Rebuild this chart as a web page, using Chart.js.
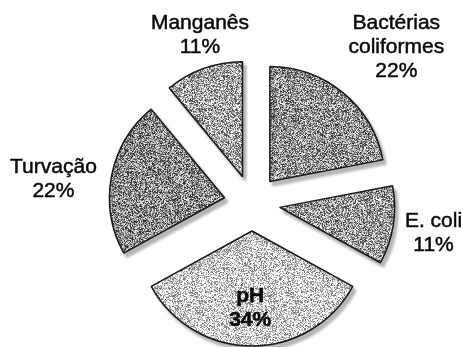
<!DOCTYPE html>
<html>
<head>
<meta charset="utf-8">
<script src="https://cdn.jsdelivr.net/npm/chart.js@4/dist/chart.umd.min.js"></script>
<style>
  html, body { margin: 0; padding: 0; background: #fff; }
  #wrap { width: 462px; height: 347px; position: relative; }
</style>
</head>
<body>
<div id="wrap"><canvas id="pieChart"></canvas></div>
<script>
// Parâmetros de qualidade da água fora do padrão
const categories = ['Bactérias coliformes', 'E. coli', 'pH', 'Turvação', 'Manganês'];
const labelLines = [['Bactérias', 'coliformes'], ['E. coli'], ['pH'], ['Turvação'], ['Manganês']];
const shares = [22, 11, 34, 22, 11];

// gray level of each slice texture
const sliceGray = [146, 156, 214, 138, 168];
// label placement: distance from the pie centre and a small turn (degrees) off the slice middle
const labelPlace = [
    { dist: 212, turn: 3.3 },
    { dist: 184, turn: 0.4 },
    { dist: 105, turn: 1 },
    { dist: 200, turn: -3.9 },
    { dist: 176, turn: 2.6 }
];
const EXPLODE = 28;

// grainy halftone fill, deterministic
function grainPattern(base) {
    const size = 96;
    const c = document.createElement('canvas');
    c.width = size; c.height = size;
    const g = c.getContext('2d');
    const img = g.createImageData(size, size);
    for (let y = 0; y < size; y++) {
        for (let x = 0; x < size; x++) {
            let h = Math.sin(x * 12.9898 + y * 78.233) * 43758.5453;
            h = h - Math.floor(h);
            const v = Math.max(0, Math.min(255, Math.round(base + (h - 0.5) * 210)));
            const i = (y * size + x) * 4;
            img.data[i] = img.data[i + 1] = img.data[i + 2] = v;
            img.data[i + 3] = 255;
        }
    }
    g.putImageData(img, 0, 0);
    return g.createPattern(c, 'repeat');
}

// push every slice outward along its middle angle
const explodePlugin = {
    id: 'explode',
    afterDatasetUpdate(chart, args) {
        args.meta.data.forEach(arc => {
            const mid = (arc.startAngle + arc.endAngle) / 2;
            arc.x += Math.cos(mid) * EXPLODE;
            arc.y += Math.sin(mid) * EXPLODE;
        });
    },
    beforeDatasetDraw(chart) {
        const ctx = chart.ctx;
        ctx.shadowColor = 'rgba(0,0,0,0.28)';
        ctx.shadowBlur = 3;
        ctx.shadowOffsetX = 3;
        ctx.shadowOffsetY = 4;
    },
    afterDatasetDraw(chart) {
        const ctx = chart.ctx;
        ctx.shadowColor = 'transparent';
        ctx.shadowBlur = 0;
        ctx.shadowOffsetX = 0;
        ctx.shadowOffsetY = 0;
    }
};

const sliceLabels = {
    id: 'sliceLabels',
    afterDatasetsDraw(chart) {
        const ctx = chart.ctx;
        const area = chart.chartArea;
        const cx = (area.left + area.right) / 2;
        const cy = (area.top + area.bottom) / 2;
        const meta = chart.getDatasetMeta(0);
        const total = shares.reduce((a, b) => a + b, 0);
        const lineH = 24;
        ctx.save();
        ctx.fillStyle = '#0a0a0a';
        ctx.strokeStyle = '#0a0a0a';
        ctx.lineWidth = 0.5;
        ctx.textAlign = 'center';
        ctx.textBaseline = 'middle';
        meta.data.forEach((arc, i) => {
            const mid = (arc.startAngle + arc.endAngle) / 2 + labelPlace[i].turn * Math.PI / 180;
            const x = cx + Math.cos(mid) * labelPlace[i].dist;
            const y = cy + Math.sin(mid) * labelPlace[i].dist;
            const lines = labelLines[i].concat([Math.round(shares[i] / total * 100) + '%']);
            ctx.font = (i === 2 ? 'bold ' : '') + '21px "Liberation Sans", Arial, sans-serif';
            const top = y - (lines.length - 1) * lineH / 2;
            lines.forEach((t, k) => {
                ctx.fillText(t, x, top + k * lineH);
                ctx.strokeText(t, x, top + k * lineH);
            });
        });
        ctx.restore();
    }
};

const ctx = document.getElementById('pieChart').getContext('2d');
new Chart(ctx, {
    type: 'pie',
    data: {
        labels: categories,
        datasets: [{
            data: shares,
            backgroundColor: sliceGray.map(grainPattern),
            borderColor: '#1a1a1a',
            borderWidth: 1.5
        }]
    },
    options: {
        responsive: true,
        maintainAspectRatio: false,
        animation: false,
        radius: 115,
        layout: { padding: { left: 42, top: 59, right: 0, bottom: 0 } },
        plugins: {
            legend: { display: false },
            tooltip: { enabled: false }
        }
    },
    plugins: [explodePlugin, sliceLabels]
});
</script>
</body>
</html>
